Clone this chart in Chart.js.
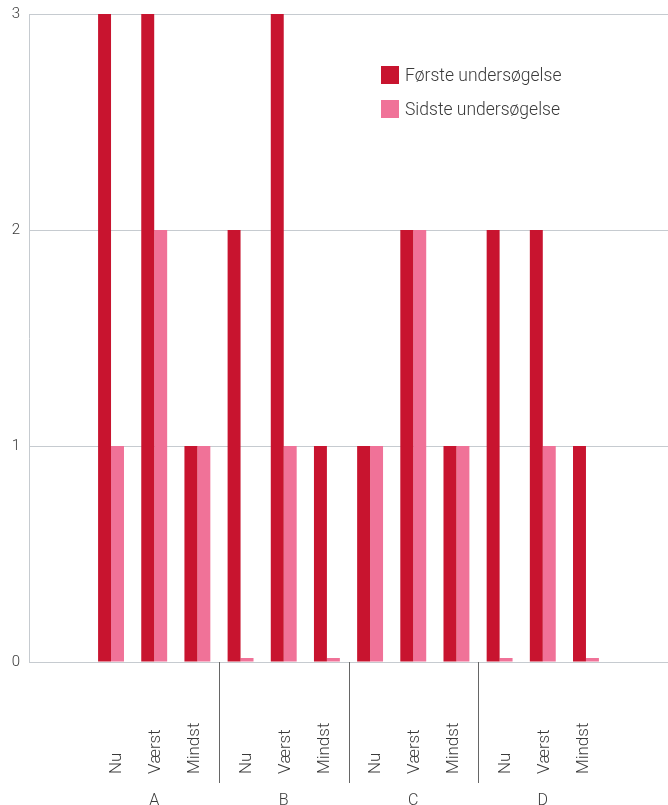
<!DOCTYPE html>
<html>
<head>
<meta charset="utf-8">
<script src="https://cdn.jsdelivr.net/npm/chart.js@4"></script>
<style>
  html, body { margin: 0; padding: 0; background: #fff; }
  #wrap { position: relative; width: 668px; height: 805px; overflow: hidden; }
  #legend { position: absolute; left: 381px; top: 66px; font-family: Roboto, "Open Sans", sans-serif; font-weight: 300; font-size: 17.5px; color: #3a3a3a; }
  .item { display: flex; align-items: center; height: 18px; margin-bottom: 16px; white-space: nowrap; }
  .sw { width: 18px; height: 18px; margin-right: 6px; flex: none; }
</style>
</head>
<body>
<div id="wrap">
  <canvas id="c" width="668" height="805"></canvas>
  <div id="legend"></div>
</div>
<script>
const groups = ['A', 'B', 'C', 'D'];
const subLabels = ['Nu', 'Værst', 'Mindst'];
const seriesNames = ['Første undersøgelse', 'Sidste undersøgelse'];
const foersteValues = [3, 3, 1, 2, 3, 1, 1, 2, 1, 2, 2, 1];
const sidsteValues = [1, 2, 1, 0, 1, 0, 1, 2, 1, 0, 1, 0];
const yTicks = [0, 1, 2, 3];
const seriesColors = ['#c8142f', '#f07298'];

const FONT = 'Roboto, "Open Sans", sans-serif';
const TEXT = '#3a3a3a';
const GRID = '#c6cbd0';

const labelsPlugin = {
  id: 'xlabels',
  afterDraw(chart) {
    const ctx = chart.ctx;
    const xs = chart.scales.x;
    const area = chart.chartArea;
    ctx.save();
    ctx.fillStyle = TEXT;
    groups.forEach((g, gi) => {
      const center = xs.getPixelForValue(gi * 3 + 1);
      ctx.font = '300 17px ' + FONT;
      subLabels.forEach((s, j) => {
        const px = xs.getPixelForValue(gi * 3 + j);
        const x = center + (px - center) * 0.9 + 6;
        ctx.save();
        ctx.translate(x, 774);
        ctx.rotate(-Math.PI / 2);
        ctx.textAlign = 'left';
        ctx.textBaseline = 'alphabetic';
        ctx.fillText(s, 0, 0);
        ctx.restore();
      });
      ctx.font = '300 16px ' + FONT;
      ctx.textAlign = 'center';
      ctx.textBaseline = 'alphabetic';
      ctx.fillText(g, center, 805);
      if (gi > 0) {
        const sx = Math.round(xs.getPixelForValue(gi * 3 - 0.5)) + 0.5;
        ctx.strokeStyle = '#666';
        ctx.lineWidth = 1;
        ctx.beginPath();
        ctx.moveTo(sx, area.bottom);
        ctx.lineTo(sx, 783);
        ctx.stroke();
      }
    });
    ctx.restore();
  }
};

const chart = new Chart(document.getElementById('c'), {
  type: 'bar',
  data: {
    datasets: [
      {
        label: seriesNames[0],
        data: foersteValues.map((v, i) => ({ x: i, y: v })),
        backgroundColor: seriesColors[0],
        categoryPercentage: 0.6,
        barPercentage: 1.0
      },
      {
        label: seriesNames[1],
        data: sidsteValues.map((v, i) => ({ x: i, y: v })),
        backgroundColor: seriesColors[1],
        categoryPercentage: 0.6,
        barPercentage: 1.0,
        minBarLength: 4
      }
    ]
  },
  options: {
    responsive: false,
    devicePixelRatio: 1,
    animation: false,
    layout: { padding: { top: 14, right: 0, left: 0, bottom: 0 } },
    plugins: {
      legend: { display: false },
      tooltip: { enabled: false }
    },
    scales: {
      x: {
        type: 'linear',
        offset: false,
        min: -1.9,
        max: 12.9,
        grid: { display: false, offset: false },
        border: { display: false },
        ticks: { display: false },
        afterFit: (s) => { s.height = 143; s.paddingLeft = 0; s.paddingRight = 0; }
      },
      y: {
        min: 0,
        max: 3,
        afterBuildTicks: (s) => { s.ticks = yTicks.map(v => ({ value: v })); },
        ticks: {
          stepSize: 1,
          padding: 9,
          color: TEXT,
          font: { family: FONT, size: 15, weight: '300' }
        },
        grid: { color: GRID, drawTicks: false, lineWidth: 1 },
        border: { display: true, color: GRID, width: 1 },
        afterFit: (s) => { s.width = 29; s.paddingTop = 0; s.paddingBottom = 0; }
      }
    }
  },
  plugins: [labelsPlugin]
});

const legend = document.getElementById('legend');
chart.data.datasets.forEach((ds) => {
  const item = document.createElement('div');
  item.className = 'item';
  const sw = document.createElement('span');
  sw.className = 'sw';
  sw.style.background = ds.backgroundColor;
  const txt = document.createElement('span');
  txt.textContent = ds.label;
  item.appendChild(sw);
  item.appendChild(txt);
  legend.appendChild(item);
});
</script>
</body>
</html>
